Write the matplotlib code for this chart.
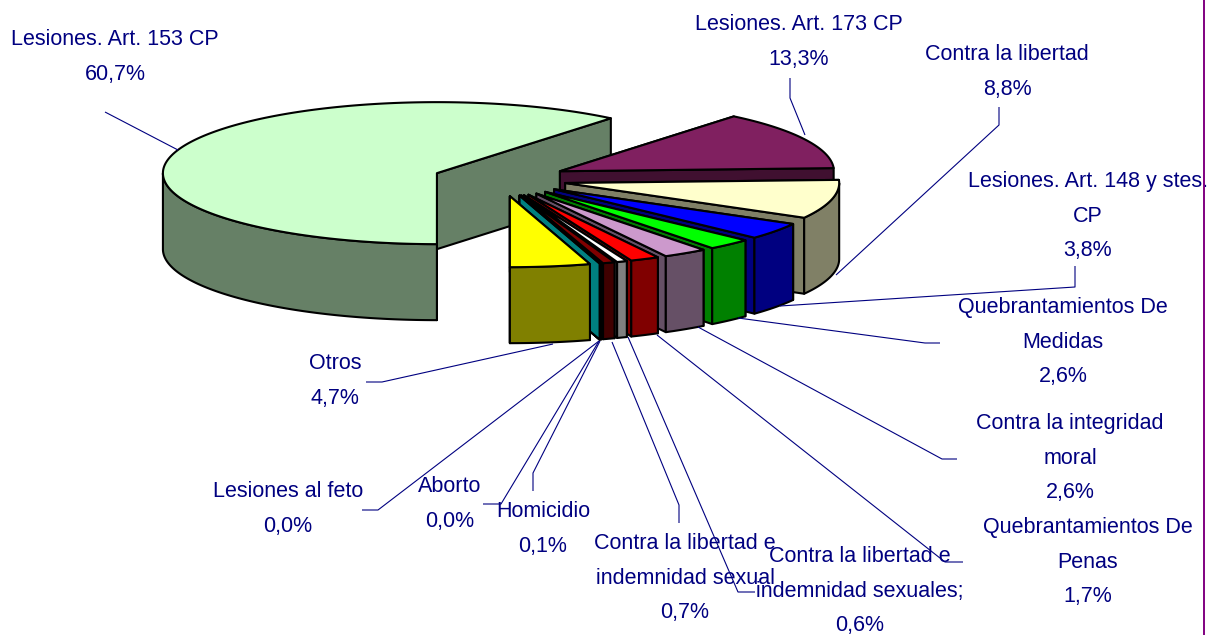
import numpy as np
import matplotlib
matplotlib.use("Agg")
import matplotlib.pyplot as plt
from matplotlib.patches import Polygon

# ---- data ----
categories = ["Lesiones. Art. 153 CP", "Otros", "Lesiones al feto", "Aborto", "Homicidio",
              "Contra la libertad e\nindemnidad sexual", "Contra la libertad e\nindemnidad sexuales;",
              "Quebrantamientos De\nPenas", "Contra la integridad\nmoral",
              "Quebrantamientos De\nMedidas", "Lesiones. Art. 148 y stes.\nCP",
              "Contra la libertad", "Lesiones. Art. 173 CP"]
values = [60.7, 4.7, 0.0, 0.0, 0.1, 0.7, 0.6, 1.7, 2.6, 2.6, 3.8, 8.8, 13.3]
value_labels = ["60,7%", "4,7%", "0,0%", "0,0%", "0,1%", "0,7%", "0,6%", "1,7%", "2,6%", "2,6%", "3,8%", "8,8%", "13,3%"]
top_colors = ["#CCFFCC", "#FFFF00", "#00FFFF", "#808080", "#404040", "#800000", "#FFFFFF",
              "#FF0000", "#CC99CC", "#00FF00", "#0000FF", "#FFFFCC", "#802060"]
side_colors = ["#668066", "#808000", "#008080", "#808080", "#404040", "#400000", "#808080",
               "#800000", "#665066", "#008000", "#000080", "#808066", "#401030"]

# ---- layout ----
CX, CY = 500, 179      # pie centre
RX, RY = 274, 71       # ellipse radii
EXPLODE = 67           # explosion distance (horizontal radius units)
DEPTH = 76             # extrusion
START_ANGLE = 50.6     # degrees, first slice runs counter-clockwise from here
TEXT_COLOR = "#000080"

label_pos = [(115, 57), (335, 381), (288, 509), (450, 504), (543, 529), (685, 578), (860, 591),
             (1088, 562), (1070, 458), (1063, 342), (1088, 216), (1007, 72), (799, 42)]
leaders = [[(105, 112), (178, 150)],
           [(366, 382), (382, 382), (553, 344)],
           [(362, 510), (378, 510), (599, 341)],
           [(483, 504), (501, 504), (599, 341)],
           [(533, 491), (533, 473), (600, 341)],
           [(679, 523), (679, 505), (612, 342)],
           [(755, 592), (738, 592), (628, 337)],
           [(963, 562), (945, 562), (657, 335)],
           [(957, 459), (942, 459), (698, 327)],
           [(940, 343), (925, 343), (738, 318)],
           [(1075, 266), (1075, 287), (780, 306)],
           [(999, 107), (999, 125), (836, 275)],
           [(790, 78), (790, 98), (805, 135)]]

plt.rcParams['font.family'] = ['Liberation Sans', 'DejaVu Sans']
fig = plt.figure(figsize=(12.2, 6.35), dpi=100, facecolor="white")
ax = fig.add_axes([0, 0, 1, 1])
ax.set_xlim(0, 1220)
ax.set_ylim(635, 0)
ax.axis("off")

spans = np.array(values) / np.sum(values) * 360.0
ends = START_ANGLE + np.cumsum(spans)
starts = ends - spans


def pt(apex, deg):
    a = np.radians(deg)
    return (apex[0] + RX * np.cos(a), apex[1] - RY * np.sin(a))


def draw_slice(start, end, top, side, z):
    mid = np.radians((start + end) / 2)
    apex = (CX + EXPLODE * np.cos(mid), CY - EXPLODE * RY / RX * np.sin(mid))
    kw = dict(edgecolor="black", linewidth=1.5, joinstyle="round", zorder=z)
    # flat cut faces
    for a in (end, start):
        p = pt(apex, a)
        ax.add_patch(Polygon([apex, p, (p[0], p[1] + DEPTH), (apex[0], apex[1] + DEPTH)],
                             closed=True, facecolor=side, **kw))
    # outer wall: only the part of the rim that faces the viewer
    angs = np.linspace(start, end, max(int(end - start) * 2, 2))
    vis = angs[np.sin(np.radians(angs)) <= 0]
    if len(vis) > 1:
        rim = [pt(apex, a) for a in vis]
        ax.add_patch(Polygon(rim + [(x, y + DEPTH) for x, y in rim[::-1]], closed=True,
                             facecolor=side, **kw))
    # top
    ax.add_patch(Polygon([apex] + [pt(apex, a) for a in angs], closed=True, facecolor=top, **kw))


# big slice first, then the others from the back to the front
draw_slice(starts[0], ends[0], top_colors[0], side_colors[0], 2)
for rank, i in enumerate(range(len(values) - 1, 0, -1)):
    draw_slice(starts[i], ends[i], top_colors[i], side_colors[i], 3 + rank)

for pts in leaders:
    xs, ys = zip(*pts)
    ax.plot(xs, ys, color=TEXT_COLOR, lw=0.8, zorder=30, solid_capstyle="butt")

for name, val, (x, y) in zip(categories, value_labels, label_pos):
    ax.text(x, y, f"{name}\n{val}", ha="center", va="center", fontsize=15.5, color=TEXT_COLOR,
            linespacing=1.82, zorder=40)

# plot-frame line at the right
ax.axvline(1203.5, color="#800080", lw=1.4, zorder=50)

fig.savefig("out.png", dpi=100, facecolor="white")
